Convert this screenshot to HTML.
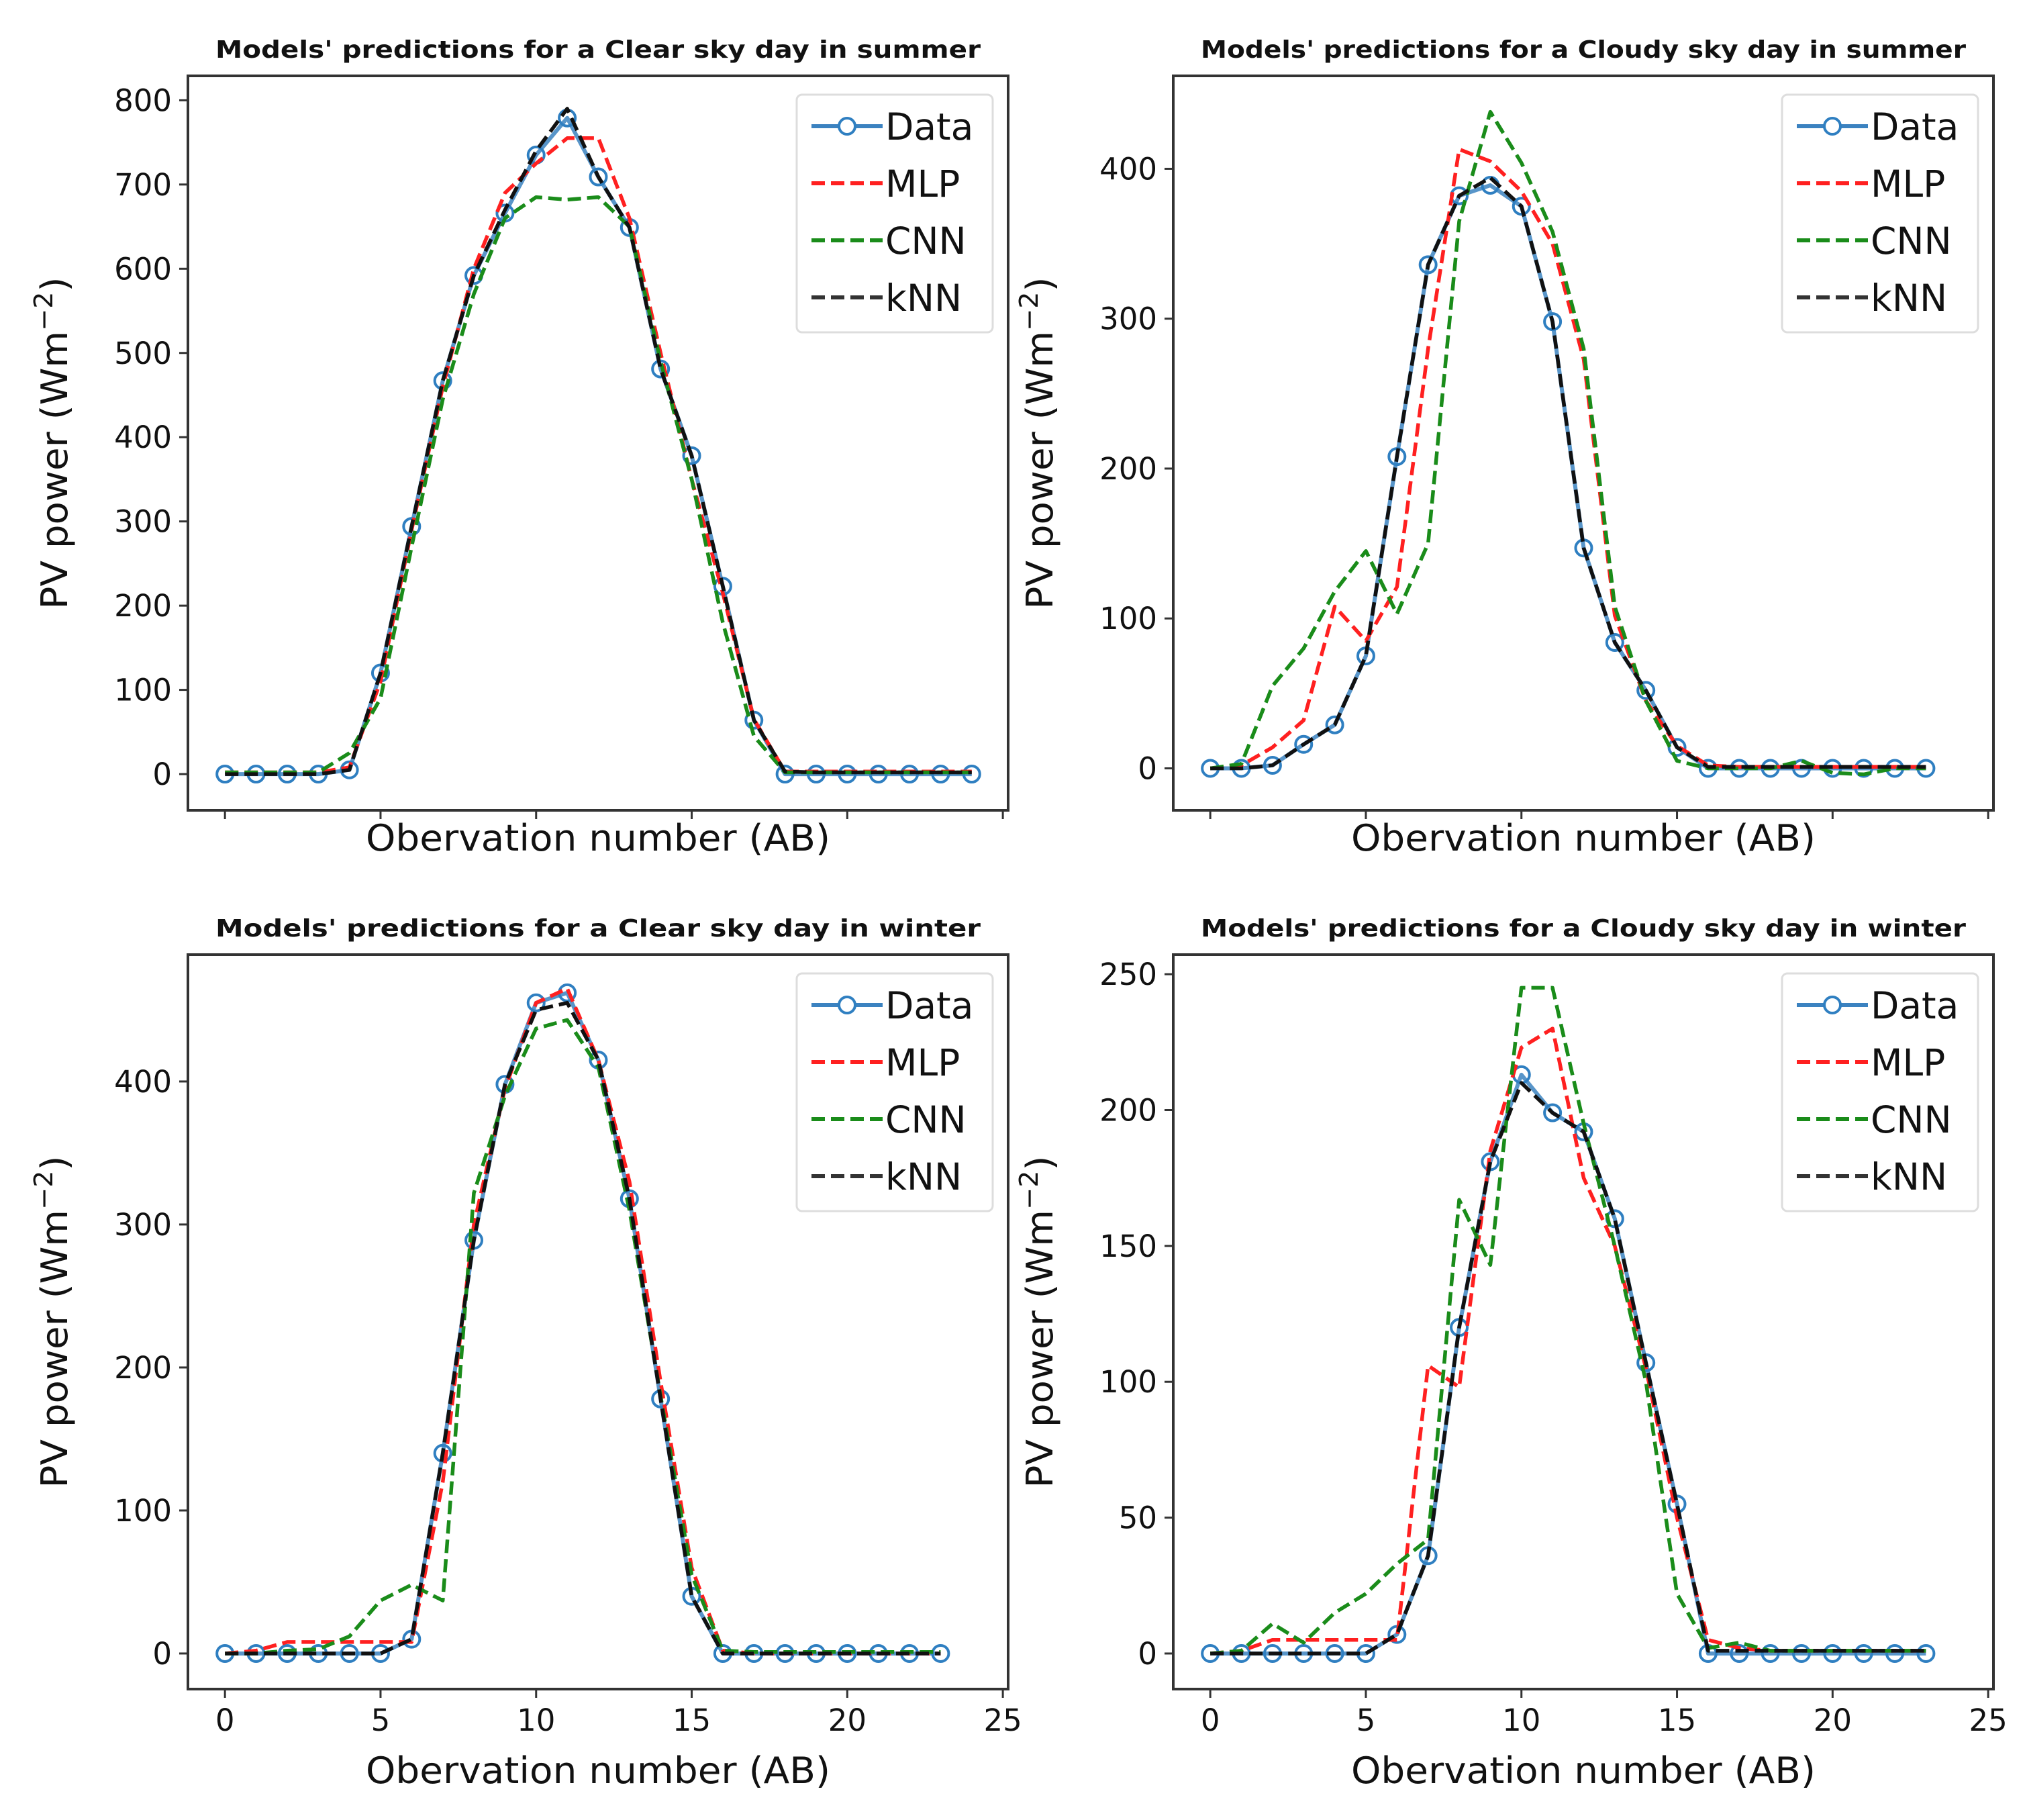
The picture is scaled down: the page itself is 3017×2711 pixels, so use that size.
<!DOCTYPE html>
<html><head><meta charset="utf-8">
<style>
html,body{margin:0;padding:0;background:#fff;}
svg{display:block;}
text{font-family:"DejaVu Sans","Liberation Sans",sans-serif;fill:#111;}
</style></head>
<body>
<svg id="fig" width="3017" height="2711" viewBox="0 0 3017 2711" xmlns="http://www.w3.org/2000/svg"></svg>
<script>
// ---- shared x axis ----
const xTicks = [0, 5, 10, 15, 20, 25];
const legendLabels = ["Data", "MLP", "CNN", "kNN"];

// ---- Panel 1: Clear sky summer ----
const p1Data = [0,0,0,0,5,120,294,467,592,666,735,779,709,649,481,378,223,64,0,0,0,0,0,0,0];
const p1MLP  = [2,2,2,2,8,110,290,460,600,690,725,755,755,660,500,350,215,65,3,3,3,3,3,3,3];
const p1CNN  = [2,2,2,2,25,90,270,445,570,660,685,682,685,650,490,350,180,45,2,2,2,2,2,2,2];
const p1KNN  = [0,0,0,0,5,120,294,467,592,670,740,790,709,649,481,378,223,64,3,2,2,2,2,2,2];
const p1YTicks = [0,100,200,300,400,500,600,700,800];

// ---- Panel 2: Cloudy sky summer ----
const p2Data = [0,0,2,16,29,75,208,336,382,389,375,298,147,84,52,14,0,0,0,0,0,0,0,0];
const p2MLP  = [0,2,14,32,108,85,121,280,413,405,385,350,273,102,45,15,2,1,1,1,1,1,1,1];
const p2CNN  = [0,3,55,80,118,145,103,150,365,438,404,358,280,108,45,5,0,0,0,5,-3,-4,0,0];
const p2KNN  = [0,0,2,16,29,75,208,336,382,394,375,298,147,84,52,14,1,1,1,1,1,1,1,1];
const p2YTicks = [0,100,200,300,400];

// ---- Panel 3: Clear sky winter ----
const p3Data = [0,0,0,0,0,0,10,140,289,398,455,462,415,318,178,40,0,0,0,0,0,0,0,0];
const p3MLP  = [0,2,8,8,8,8,8,120,300,395,455,465,415,330,190,60,2,0,0,0,0,0,0,0];
const p3CNN  = [0,0,2,3,12,37,48,37,322,390,437,443,410,310,180,55,2,1,1,1,1,1,1,1];
const p3KNN  = [0,0,0,0,0,0,10,140,289,398,450,455,415,318,178,40,0,0,0,0,0,0,0,0];
const p3YTicks = [0,100,200,300,400];

// ---- Panel 4: Cloudy sky winter ----
const p4Data = [0,0,0,0,0,0,7,36,120,181,213,199,192,160,107,55,0,0,0,0,0,0,0,0];
const p4MLP  = [0,1,5,5,5,5,5,106,98,185,223,230,175,150,105,50,5,2,1,1,1,1,1,1];
const p4CNN  = [0,1,11,4,15,22,33,42,167,143,245,245,195,150,100,22,2,4,1,1,1,1,1,1];
const p4KNN  = [0,0,0,0,0,0,7,36,120,181,210,199,192,160,107,55,1,1,1,1,1,1,1,1];
const p4YTicks = [0,50,100,150,200,250];

const NS = "http://www.w3.org/2000/svg";
const svg = document.getElementById("fig");
function mk(tag, attrs, parent){
  const e = document.createElementNS(NS, tag);
  for (const k in attrs) e.setAttribute(k, attrs[k]);
  (parent||svg).appendChild(e);
  return e;
}

function panel(cfg){
  const g = mk("g", {});
  
  
  const L = cfg.left, R = cfg.left + 1222, T = cfg.top, B = cfg.top + 1094;
  const xmin = -1.19, xmax = 25.17;
  const xs = v => L + (v - xmin) / (xmax - xmin) * (R - L);
  const ys = v => B - (v - cfg.ymin) / (cfg.ymax - cfg.ymin) * (B - T);

  const t = mk("text", {x:(L+R)/2, y:T-27, "text-anchor":"middle", "font-size":36, "font-weight":"bold", textLength:1140, lengthAdjust:"spacingAndGlyphs"}, g);
  t.textContent = cfg.title;
  
  

  const cid = cfg.name + "-clip";
  const cp = mk("clipPath", {id:cid}, g);
  mk("rect", {x:L, y:T, width:R-L, height:B-T}, cp);

  cfg.yTicks.forEach(v => {
    const y = ys(v);
    const tk = mk("line", {x1:L-13, x2:L, y1:y, y2:y, stroke:"#333", "stroke-width":3}, g);
    
    
    const tl = mk("text", {x:L-24, y:y+16, "text-anchor":"end", "font-size":45}, g);
    tl.textContent = String(v);
    
    
  });
  xTicks.forEach(v => {
    const x = xs(v);
    const tk = mk("line", {x1:x, x2:x, y1:B, y2:B+13, stroke:"#333", "stroke-width":3}, g);
    
    
    if (cfg.showXLabels){
      const tl = mk("text", {x:x, y:B+62, "text-anchor":"middle", "font-size":45}, g);
      tl.textContent = String(v);
      
      
    }
  });
  const xl = mk("text", {x:(L+R)/2, y:cfg.showXLabels ? B+140 : B+60, "text-anchor":"middle", "font-size":54, textLength:692, lengthAdjust:"spacingAndGlyphs"}, g);
  xl.textContent = "Obervation number (AB)";
  
  
  const yc = (T+B)/2, yx = L - cfg.ylabOff;
  const yl = mk("text", {x:yx, y:yc, transform:`rotate(-90 ${yx} ${yc})`, "text-anchor":"middle", "font-size":54, textLength:495, lengthAdjust:"spacingAndGlyphs"}, g);
  yl.innerHTML = 'PV power (Wm<tspan dy="-22" font-size="38">−2</tspan><tspan dy="22">)</tspan>';
  
  

  const plot = mk("g", {"clip-path":`url(#${cid})`}, g);
  const pts = arr => arr.map((v,i)=> xs(i).toFixed(1)+","+ys(v).toFixed(1)).join(" ");
  const dl = mk("polyline", {points:pts(cfg.data), fill:"none", stroke:"#3b82c0", "stroke-width":6, "stroke-linejoin":"round", opacity:0.85}, plot);
  
  
  cfg.data.forEach((v,i)=>{
    const c = mk("circle", {cx:xs(i), cy:ys(v), r:12, fill:"none", stroke:"#2f7fc1", "stroke-width":4}, plot);
    
    
  });
  const series = [[cfg.mlp,"#ff2020","mlp-line"],[cfg.cnn,"#1a8c1a","cnn-line"],[cfg.knn,"#111","knn-line"]];
  series.forEach(s=>{
    const pl = mk("polyline", {points:pts(s[0]), fill:"none", stroke:s[1], "stroke-width":5.5, "stroke-dasharray":"20,9", "stroke-linejoin":"round"}, plot);
    
    
  });

  const fr = mk("rect", {x:L, y:T, width:R-L, height:B-T, fill:"none", stroke:"#333", "stroke-width":4}, g);
  
  

  const lx = R - 315, ly = T + 28;
  const lg = mk("g", {}, g);
  
  
  mk("rect", {x:lx, y:ly, width:292, height:354, rx:8, fill:"#fff", "fill-opacity":0.85, stroke:"#ddd", "stroke-width":3}, lg);
  const cols = ["#3b82c0","#ff2020","#1a8c1a","#333"];
  legendLabels.forEach((lab,i)=>{
    const yy = ly + 47 + i*85;
    const e = mk("g", {}, lg);
    
    
    if (i===0){
      mk("line", {x1:lx+22, x2:lx+128, y1:yy, y2:yy, stroke:cols[0], "stroke-width":6}, e);
      mk("circle", {cx:lx+75, cy:yy, r:12, fill:"#fff", stroke:"#2f7fc1", "stroke-width":4}, e);
    } else {
      mk("line", {x1:lx+22, x2:lx+128, y1:yy, y2:yy, stroke:cols[i], "stroke-width":6, "stroke-dasharray":"20,9"}, e);
    }
    const tx = mk("text", {x:lx+132, y:yy+20, "font-size":55}, e);
    tx.textContent = lab;
  });
}

panel({name:"panel-clear-summer", title:"Models' predictions for a Clear sky day in summer", left:280, top:113, ymin:-43, ymax:829, yTicks:p1YTicks, data:p1Data, mlp:p1MLP, cnn:p1CNN, knn:p1KNN, showXLabels:false, ylabOff:180});
panel({name:"panel-cloudy-summer", title:"Models' predictions for a Cloudy sky day in summer", left:1748, top:113, ymin:-28, ymax:462, yTicks:p2YTicks, data:p2Data, mlp:p2MLP, cnn:p2CNN, knn:p2KNN, showXLabels:false, ylabOff:180});
panel({name:"panel-clear-winter", title:"Models' predictions for a Clear sky day in winter", left:280, top:1422, ymin:-24.9, ymax:488.7, yTicks:p3YTicks, data:p3Data, mlp:p3MLP, cnn:p3CNN, knn:p3KNN, showXLabels:true, ylabOff:180});
panel({name:"panel-cloudy-winter", title:"Models' predictions for a Cloudy sky day in winter", left:1748, top:1422, ymin:-13.1, ymax:257.2, yTicks:p4YTicks, data:p4Data, mlp:p4MLP, cnn:p4CNN, knn:p4KNN, showXLabels:true, ylabOff:180});
</script>
</body></html>
